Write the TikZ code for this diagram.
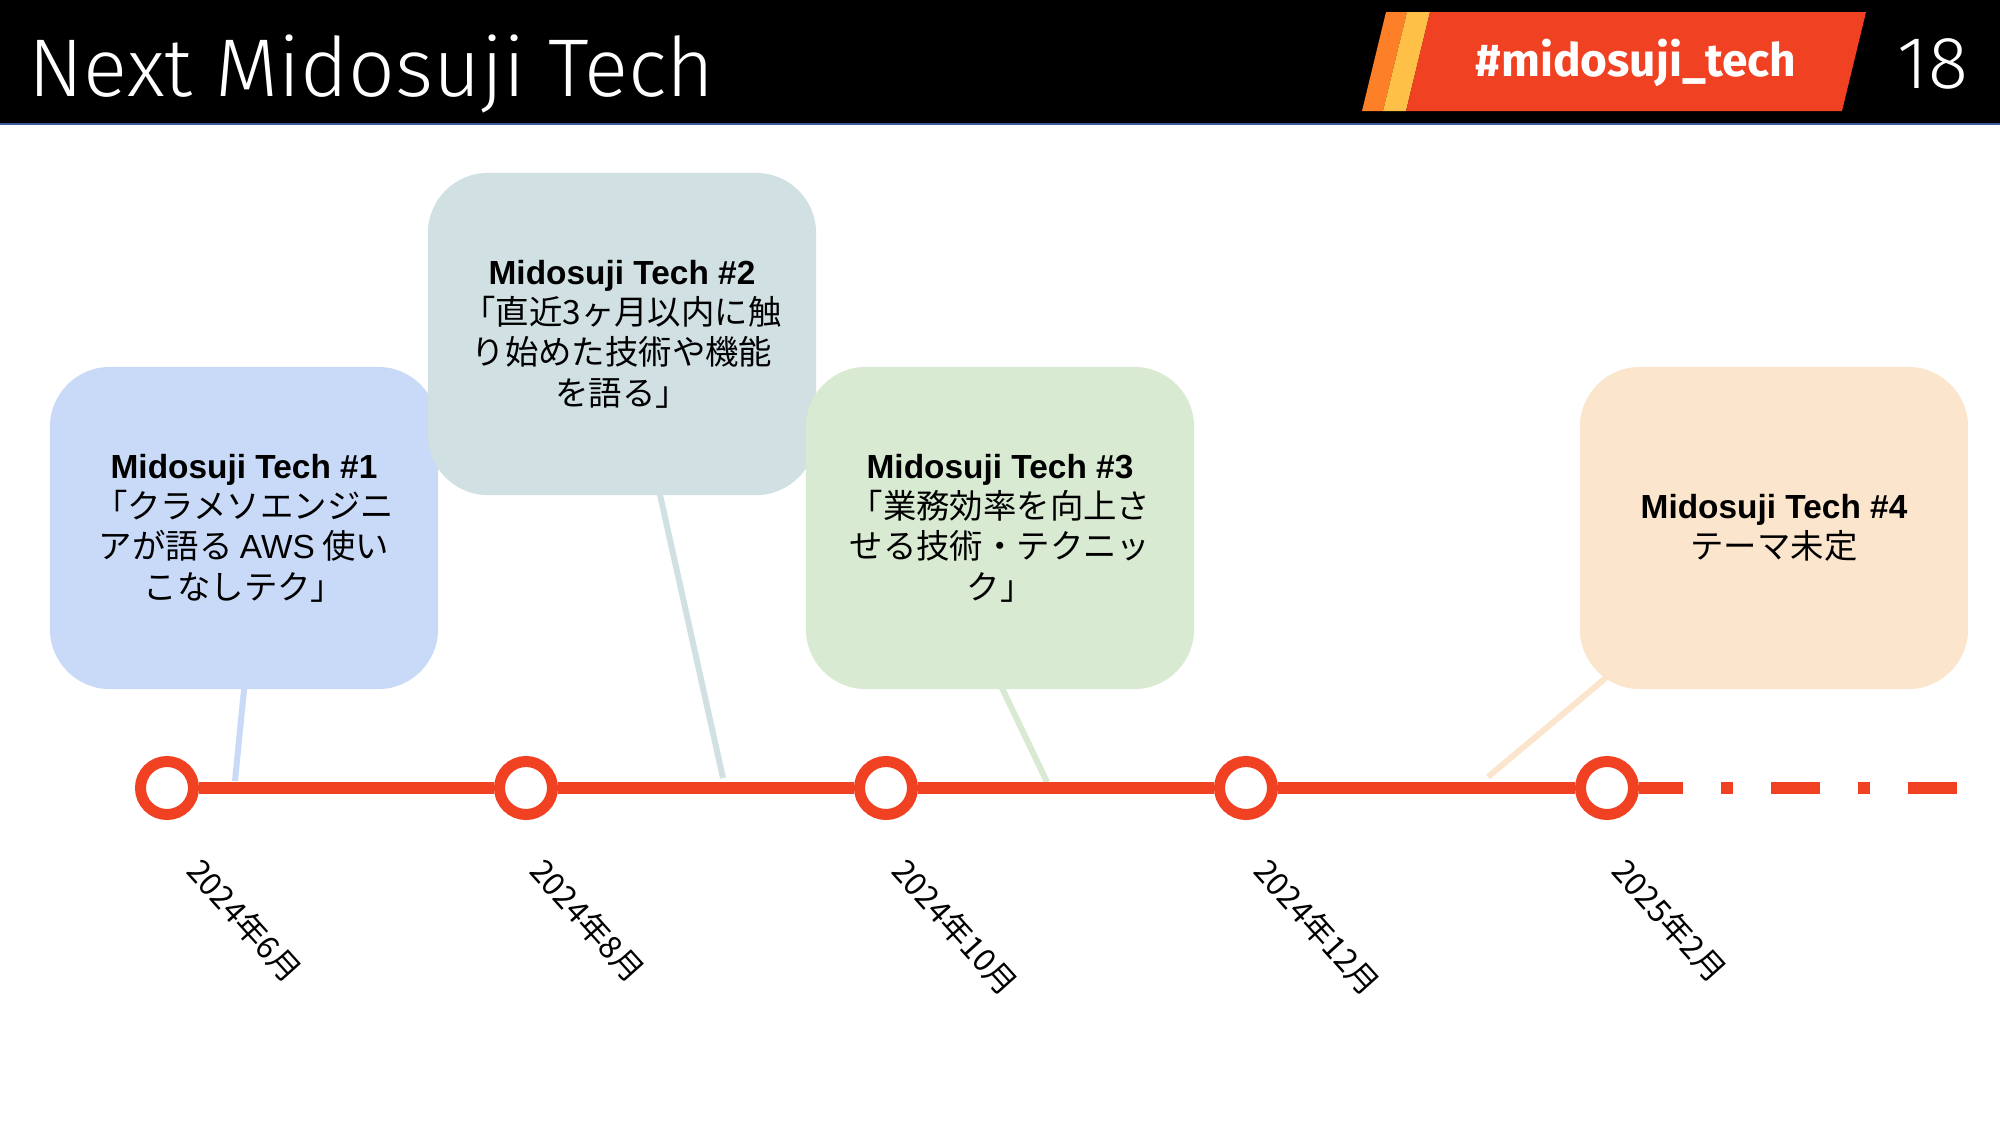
\documentclass[tikz,border=0pt]{standalone}
\usepackage{fontspec}
\setmainfont{Liberation Sans}
\newfontfamily\jpfont{Noto Sans CJK JP}
\newfontfamily\headfont{Fira Sans Light}
\newfontfamily\tagfont{Fira Sans}
\usetikzlibrary{calc, backgrounds}

\definecolor{tlred}{RGB}{240,65,35}
\definecolor{tagorange}{RGB}{253,127,39}
\definecolor{tagyellow}{RGB}{255,192,72}
\definecolor{headline}{RGB}{60,90,160}
\definecolor{boxblue}{HTML}{C9DAF8}
\definecolor{boxcyan}{HTML}{D0E0E3}
\definecolor{boxgreen}{HTML}{D9EAD3}
\definecolor{boxorange}{HTML}{FCE5CD}

\begin{document}
\begin{tikzpicture}[x=0.01cm, y=0.01cm,
  evbox/.style={rounded corners=0.6cm, minimum width=3.88cm, minimum height=3.22cm, align=center, inner sep=0, font=\fontsize{9.5}{11.5}\selectfont\jpfont},
  tail/.style={line width=0.06cm},
  tlstop/.style={circle, draw=tlred, line width=0.11cm, fill=white, minimum size=0.53cm, inner sep=0},
  tlline/.style={draw=tlred, line width=0.12cm},
  datelab/.style={rotate=-48, anchor=north west, inner sep=0, font=\fontsize{9}{11}\selectfont\jpfont}]

\useasboundingbox (0,0) rectangle (2000,-1121);

% Header bar
\fill[black] (0,0) rectangle (2000,-123);
\fill[headline] (0,-123) rectangle (2000,-125);
\node[anchor=base west, text=white, inner sep=0, font=\fontsize{23.3}{28}\selectfont\headfont] (title) at (28,-97) {Next Midosuji Tech};
\fill[tagorange] (1362,-111) -- (1386,-12) -- (1407,-12) -- (1383,-111) -- cycle;
\fill[tagyellow] (1383,-111) -- (1407,-12) -- (1430,-12) -- (1406,-111) -- cycle;
\fill[tlred] (1406,-111) -- (1430,-12) -- (1866,-12) -- (1842,-111) -- cycle;
\node[anchor=base, text=white, inner sep=0, font=\fontsize{13.1}{16}\selectfont\tagfont\bfseries] (tag) at (1636,-77) {\#midosuji\_tech};
\node[anchor=base west, text=white, inner sep=0, font=\fontsize{21}{25}\selectfont\headfont] (page) at (1897,-88) {18};

% Event boxes
\node[evbox, fill=boxblue] (b1) at (244,-528) {{\normalfont\bfseries Midosuji Tech \#1}\\「クラメソエンジニ\\アが語る {\normalfont AWS} 使い\\こなしテク」};
\node[evbox, fill=boxcyan] (b2) at (622,-334) {{\normalfont\bfseries Midosuji Tech \#2}\\「直近3ヶ月以内に触\\り始めた技術や機能\\を語る」};
\node[evbox, fill=boxgreen] (b3) at (1000,-528) {{\normalfont\bfseries Midosuji Tech \#3}\\「業務効率を向上さ\\せる技術・テクニッ\\ク」};
\node[evbox, fill=boxorange] (b4) at (1774,-528) {{\normalfont\bfseries Midosuji Tech \#4}\\テーマ未定};

% Timeline
\node[tlstop] (c1) at (167,-788) {};
\node[tlstop] (c2) at (526,-788) {};
\node[tlstop] (c3) at (886,-788) {};
\node[tlstop] (c4) at (1246,-788) {};
\node[tlstop] (c5) at (1607,-788) {};
\coordinate (solidend) at (1683,-788);
\coordinate (dashstart) at (1721,-788);
\coordinate (dashend) at (1958,-788);

\draw[tlline] (c1) -- (c2);
\draw[tlline] (c2) -- (c3);
\draw[tlline] (c3) -- (c4);
\draw[tlline] (c4) -- (c5);
\draw[tlline] (c5) -- (solidend);
\draw[tlline, dash pattern=on 0.12cm off 0.38cm on 0.49cm off 0.38cm] (dashstart) -- (dashend);

% Tails from boxes to the line
\coordinate (t1) at (235,-781);
\coordinate (t2) at (723,-778);
\coordinate (t3) at (1047,-782);
\coordinate (t4) at (1488,-777);
\begin{scope}[on background layer]
\draw[tail, boxblue] ($(b1.south)+(1,10)$) -- (t1);
\draw[tail, boxcyan] ($(b2.south)+(36,10)$) -- (t2);
\draw[tail, boxgreen] ($(b3.south)+(-2,10)$) -- (t3);
\draw[tail, boxorange] ($(b4.south west)+(35,19)$) -- (t4);
\end{scope}

% Dates
\node[datelab] (d1) at ($(c1)+(38,-66)$) {2024年6月};
\node[datelab] (d2) at ($(c2)+(22,-66)$) {2024年8月};
\node[datelab] (d3) at ($(c3)+(24,-66)$) {2024年10月};
\node[datelab] (d4) at ($(c4)+(26,-66)$) {2024年12月};
\node[datelab] (d5) at ($(c5)+(23,-66)$) {2025年2月};

\end{tikzpicture}
\end{document}
